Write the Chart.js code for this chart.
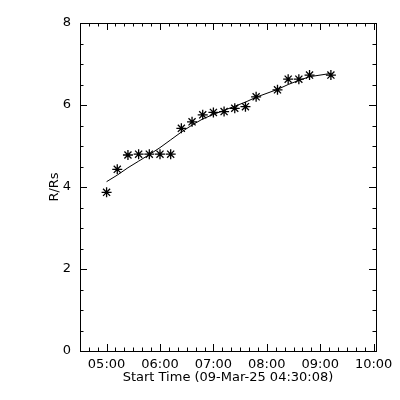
<!DOCTYPE html>
<html><head><meta charset="utf-8">
<script src="https://cdn.jsdelivr.net/npm/chart.js@4/dist/chart.umd.min.js"></script>
<style>html,body{margin:0;padding:0;background:#fff}#c{display:block}</style>
</head><body>
<canvas id="c" width="400" height="400"></canvas>
<script>
// ---- data ----
const times = ["05:00","05:12","05:24","05:36","05:48","06:00","06:12","06:24","06:36","06:48",
               "07:00","07:12","07:24","07:36","07:48","08:12","08:24","08:36","08:48","09:12"];
const heights = [3.87,4.43,4.78,4.80,4.80,4.80,4.80,5.43,5.59,5.76,
                 5.82,5.84,5.92,5.96,6.20,6.37,6.63,6.63,6.73,6.73];
const fitHeights = [4.13,4.29,4.47,4.63,4.79,4.96,5.15,5.34,5.51,5.66,
                    5.77,5.87,5.97,6.07,6.19,6.38,6.50,6.60,6.69,6.77];
const xTickLabels = ["05:00","06:00","07:00","08:00","09:00","10:00"];
const yTickValues = [0,2,4,6,8];
const startTime = "04:30:08";
const endTime = "10:02:40";
const xTitle = "Start Time (09-Mar-25 04:30:08)";
const yTitle = "R/Rs";

function toMin(s){ const p = s.split(':').map(Number); return p[0]*60 + p[1] + (p[2]||0)/60; }
function fmt(m){ const h = Math.floor(m/60 + 1e-6), mm = Math.round(m - h*60); return String(h).padStart(2,'0')+':'+String(mm).padStart(2,'0'); }

const FONT = {family: "'DejaVu Sans', sans-serif", size: 13};

const boxPlugin = {
  id: 'box',
  afterDraw(chart){
    const ctx = chart.ctx, ca = chart.chartArea;
    const xs = chart.scales.x, ys = chart.scales.y;
    ctx.save();
    ctx.strokeStyle = '#000'; ctx.lineWidth = 1;
    ctx.strokeRect(Math.round(ca.left)+0.5, Math.round(ca.top)+0.5,
                   Math.round(ca.right)-Math.round(ca.left), Math.round(ca.bottom)-Math.round(ca.top));
    ctx.beginPath();
    const major = 7, minor = 3.5;
    const x0 = xs.min, x1 = xs.max;
    for (let m = Math.ceil(x0/10)*10; m <= x1; m += 10){
      const px = Math.round(xs.getPixelForValue(m)) + 0.5;
      const len = (m % 60 === 0) ? major : minor;
      ctx.moveTo(px, ca.bottom); ctx.lineTo(px, ca.bottom - len);
      ctx.moveTo(px, ca.top); ctx.lineTo(px, ca.top + len);
    }
    for (let v = ys.min; v <= ys.max + 1e-9; v += 0.5){
      const py = Math.round(ys.getPixelForValue(v)) + 0.5;
      const len = (Math.abs(v/2 - Math.round(v/2)) < 1e-9) ? major : minor;
      ctx.moveTo(ca.left, py); ctx.lineTo(ca.left + len, py);
      ctx.moveTo(ca.right, py); ctx.lineTo(ca.right - len, py);
    }
    ctx.stroke();
    ctx.restore();
  }
};

new Chart(document.getElementById('c'), {
  type: 'scatter',
  data: {
    datasets: [
      {
        label: 'R/Rs',
        data: times.map((t,i)=>({x: toMin(t), y: heights[i]})),
        showLine: false,
        pointStyle: 'star',
        pointRadius: 5,
        pointBorderColor: '#000',
        pointBackgroundColor: '#000',
        pointBorderWidth: 1.3
      },
      {
        label: 'fit',
        data: times.map((t,i)=>({x: toMin(t), y: fitHeights[i]})),
        showLine: true,
        pointRadius: 0,
        borderColor: '#000',
        borderWidth: 1,
        tension: 0
      }
    ]
  },
  options: {
    responsive: false,
    animation: false,
    devicePixelRatio: 1,
    layout: {padding: {top: 23, right: 24, left: 0, bottom: 0}},
    plugins: {legend: {display: false}, tooltip: {enabled: false}},
    scales: {
      x: {
        type: 'linear',
        min: toMin(startTime),
        max: toMin(endTime),
        afterBuildTicks: s => { s.ticks = xTickLabels.map(l => ({value: toMin(l)})); },
        afterFit: s => { s.height = 49; },
        grid: {display: false, drawTicks: false},
        border: {display: false},
        ticks: {color: '#000', font: FONT, padding: 6, maxRotation: 0, autoSkip: false,
                callback: v => fmt(v)},
        title: {display: true, text: xTitle, color: '#000', font: FONT, padding: {top: 0, bottom: 15}}
      },
      y: {
        min: 0, max: 8,
        afterBuildTicks: s => { s.ticks = yTickValues.map(v => ({value: v})); },
        afterFit: s => { s.width = 80; },
        grid: {display: false, drawTicks: false},
        border: {display: false},
        ticks: {color: '#000', font: FONT, padding: 9, callback: v => String(v)},
        title: {display: true, text: yTitle, color: '#000', font: FONT, padding: {top: 47, bottom: 0}}
      }
    }
  },
  plugins: [boxPlugin]
});
</script>
</body></html>
